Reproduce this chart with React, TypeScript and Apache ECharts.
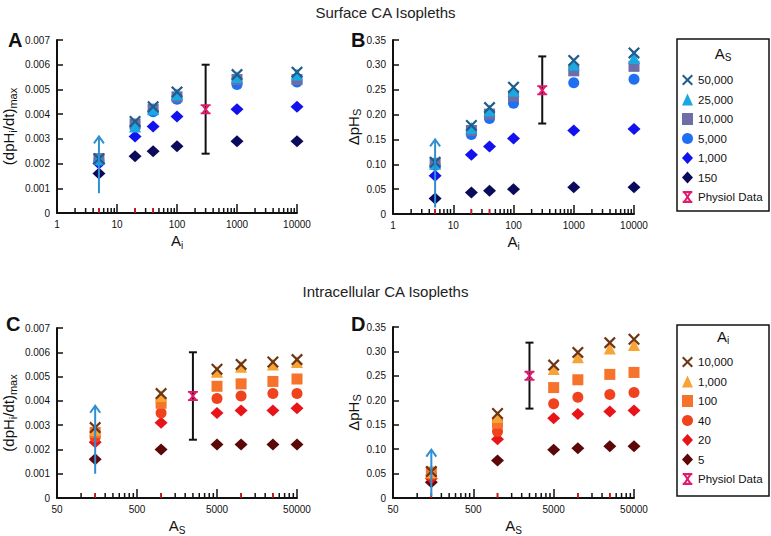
import React, { useEffect, useRef } from 'react';
import * as echarts from 'echarts';

const FONT = "'Liberation Sans', Arial, Helvetica, sans-serif";

// ---- x categories ----
const aiValues = [5, 20, 40, 100, 1000, 10000];
const asValues = [150, 1000, 5000, 10000, 25000, 50000];

// ---- axis ticks ----
const majorTicksAB = [1, 10, 100, 1000, 10000];
const majorTicksCD = [50, 500, 5000, 50000];
const redTicksAB = [5, 20, 40];
const redTicksCD = [150, 1000, 10000, 25000];

// ---- Panel A: (dpHi/dt)max vs Ai, series = As ----
const A_150 = [0.0016, 0.0023, 0.0025, 0.0027, 0.0029, 0.0029];
const A_1000 = [0.0020, 0.0031, 0.0035, 0.0039, 0.0042, 0.0043];
const A_5000 = [0.0021, 0.0035, 0.0041, 0.0046, 0.0052, 0.0053];
const A_10000 = [0.0022, 0.0036, 0.0042, 0.0047, 0.0054, 0.0054];
const A_25000 = [0.0022, 0.0035, 0.0042, 0.0048, 0.0055, 0.0056];
const A_50000 = [0.0022, 0.0037, 0.0043, 0.0049, 0.0056, 0.0057];

// ---- Panel B: ΔpHs vs Ai, series = As ----
const B_150 = [0.031, 0.043, 0.047, 0.050, 0.054, 0.054];
const B_1000 = [0.077, 0.119, 0.136, 0.152, 0.168, 0.171];
const B_5000 = [0.098, 0.160, 0.192, 0.223, 0.264, 0.271];
const B_10000 = [0.102, 0.168, 0.201, 0.237, 0.288, 0.297];
const B_25000 = [0.101, 0.173, 0.208, 0.248, 0.300, 0.314];
const B_50000 = [0.104, 0.178, 0.214, 0.255, 0.309, 0.324];

// ---- Panel C: (dpHi/dt)max vs As, series = Ai ----
const C_5 = [0.0016, 0.0020, 0.0022, 0.0022, 0.0022, 0.0022];
const C_20 = [0.0023, 0.0031, 0.0035, 0.0036, 0.0036, 0.0037];
const C_40 = [0.0025, 0.0035, 0.0041, 0.0042, 0.0043, 0.0043];
const C_100 = [0.0027, 0.0039, 0.0046, 0.0047, 0.0048, 0.0049];
const C_1000 = [0.0028, 0.0042, 0.0052, 0.0054, 0.0055, 0.0056];
const C_10000 = [0.0029, 0.0043, 0.0053, 0.0055, 0.0056, 0.0057];

// ---- Panel D: ΔpHs vs As, series = Ai ----
const D_5 = [0.032, 0.077, 0.099, 0.102, 0.106, 0.106];
const D_20 = [0.040, 0.120, 0.163, 0.172, 0.177, 0.179];
const D_40 = [0.047, 0.136, 0.193, 0.206, 0.212, 0.216];
const D_100 = [0.053, 0.153, 0.226, 0.242, 0.253, 0.257];
const D_1000 = [0.052, 0.166, 0.264, 0.288, 0.306, 0.313];
const D_10000 = [0.054, 0.173, 0.272, 0.298, 0.318, 0.325];

// ---- Physiological data [x, value, low, high] ----
const physA = [300, 0.0042, 0.0024, 0.0060];
const physB = [300, 0.249, 0.182, 0.317];
const physC = [2500, 0.0042, 0.0024, 0.0060];
const physD = [2500, 0.250, 0.183, 0.318];

// ---- arrows [x, from, to] ----
const arrowA = [5, 0.0008, 0.0031];
const arrowB = [5, 0.013, 0.150];
const arrowC = [150, 0.0010, 0.0038];
const arrowD = [150, 0.004, 0.099];

const X_PATH = 'path://M0,1.3 L1.3,0 L5,3.7 L8.7,0 L10,1.3 L6.3,5 L10,8.7 L8.7,10 L5,6.3 L1.3,10 L0,8.7 L3.7,5 Z';
const PHYS_PATH = 'path://M1,0 L9,0 L9,1.8 L1,1.8 Z M1,8.2 L9,8.2 L9,10 L1,10 Z M1.4,1 L3.4,1 L8.6,9 L6.6,9 Z M6.6,1 L8.6,1 L3.4,9 L1.4,9 Z';

const colAB = {
  c50000: '#1f5d8c', c25000: '#19a8e2', c10000: '#6d6ea8', c5000: '#1f6ff2', c1000: '#1212ee', c150: '#0b0b5c',
};
const colCD = {
  c10000: '#6e3514', c1000: '#f7a336', c100: '#f5732a', c40: '#f0421c', c20: '#e8141a', c5: '#5c0808',
};
const PHYS_COLOR = '#e3196d';
const ARROW_COLOR = '#2f8fd2';

function scatter(name: string, g: number, xs: number[], ys: number[], symbol: string, size: any, color: string, z = 2) {
  return {
    type: 'scatter', name, xAxisIndex: g, yAxisIndex: g, silent: true, z,
    data: xs.map((x, i) => [x, ys[i]]),
    symbol, symbolSize: size, itemStyle: { color, opacity: 1 },
  };
}

function errorBar(g: number, p: number[]) {
  return {
    type: 'custom', xAxisIndex: g, yAxisIndex: g, silent: true, z: 3,
    data: [[p[0], p[2], p[3]]],
    encode: { x: 0, y: [1, 2] },
    renderItem: (params: any, api: any) => {
      const x = api.value(0);
      const a = api.coord([x, api.value(1)]);
      const b = api.coord([x, api.value(2)]);
      const st = { stroke: '#111', lineWidth: 2 };
      return {
        type: 'group', children: [
          { type: 'line', shape: { x1: a[0], y1: a[1], x2: b[0], y2: b[1] }, style: st },
          { type: 'line', shape: { x1: a[0] - 4, y1: a[1], x2: a[0] + 4, y2: a[1] }, style: st },
          { type: 'line', shape: { x1: b[0] - 4, y1: b[1], x2: b[0] + 4, y2: b[1] }, style: st },
        ],
      };
    },
  };
}

function arrow(g: number, p: number[]) {
  return {
    type: 'custom', xAxisIndex: g, yAxisIndex: g, silent: true, z: 6,
    data: [[p[0], p[1], p[2]]],
    encode: { x: 0, y: [1, 2] },
    renderItem: (params: any, api: any) => {
      const x = api.value(0);
      const a = api.coord([x, api.value(1)]);
      const b = api.coord([x, api.value(2)]);
      const st = { stroke: ARROW_COLOR, lineWidth: 2, fill: null };
      return {
        type: 'group', children: [
          { type: 'line', shape: { x1: a[0], y1: a[1], x2: b[0], y2: b[1] + 1 }, style: st },
          { type: 'polyline', shape: { points: [[b[0] - 5, b[1] + 7], [b[0], b[1]], [b[0] + 5, b[1] + 7]] }, style: st },
        ],
      };
    },
  };
}

function tickSeries(g: number, values: number[], color: string, len: number, z: number) {
  return {
    type: 'custom', xAxisIndex: g, yAxisIndex: g, silent: true, z,
    data: values.map((v) => [v, 0]),
    renderItem: (params: any, api: any) => {
      const p = api.coord([api.value(0), 0]);
      return { type: 'line', shape: { x1: p[0], y1: p[1], x2: p[0], y2: p[1] - len }, style: { stroke: color, lineWidth: 1.5 } };
    },
  };
}

function minorTicks(min: number, max: number) {
  const out: number[] = [];
  for (let d = min; d < max; d *= 10) {
    for (let m = 2; m <= 9; m++) out.push(d * m);
  }
  return out;
}

const richName = {
  t: { fontSize: 15, lineHeight: 19, fontFamily: FONT, color: '#111' },
  s: { fontSize: 11, lineHeight: 11, verticalAlign: 'bottom', fontFamily: FONT, color: '#111' },
};
const richX = {
  t: { fontSize: 15, lineHeight: 19, fontFamily: FONT, color: '#111' },
  s: { fontSize: 10, lineHeight: 10, verticalAlign: 'bottom', fontFamily: FONT, color: '#111' },
};

function xAxis(g: number, min: number, max: number, majors: number[], name: string) {
  return {
    type: 'log', logBase: 10, gridIndex: g, min, max,
    axisLine: { show: true, onZero: false, lineStyle: { color: '#111', width: 2 } },
    axisTick: { show: true, inside: true, length: 9, lineStyle: { color: '#111', width: 1.5 }, customValues: majors },
    axisLabel: { customValues: majors, formatter: (v: number) => String(Math.round(v)), fontSize: 10, color: '#111', margin: 6, fontFamily: FONT },
    splitLine: { show: false }, minorTick: { show: false }, minorSplitLine: { show: false },
    name, nameLocation: 'middle', nameGap: 18, nameTextStyle: { rich: richX },
  };
}

function yAxis(g: number, max: number, interval: number, digits: number, name: string, gap: number) {
  return {
    type: 'value', gridIndex: g, min: 0, max, interval,
    axisLine: { show: true, onZero: false, lineStyle: { color: '#111', width: 2 } },
    axisTick: { show: true, inside: true, length: 6, lineStyle: { color: '#111', width: 1.5 } },
    axisLabel: { formatter: (v: number) => (v === 0 ? '0' : v.toFixed(digits)), fontSize: 10, color: '#111', margin: 7, fontFamily: FONT },
    splitLine: { show: false },
    name, nameLocation: 'middle', nameRotate: 90, nameGap: gap, nameTextStyle: { rich: richName },
  };
}

function buildOption() {
  const series: any[] = [];
  const seriesAB = (g: number, d: number[][]) => {
    series.push(scatter('s:150', g, aiValues, d[0], 'diamond', [13, 12], colAB.c150));
    series.push(scatter('s:1,000', g, aiValues, d[1], 'diamond', [13, 12], colAB.c1000));
    series.push(scatter('s:5,000', g, aiValues, d[2], 'circle', 11, colAB.c5000));
    series.push(scatter('s:10,000', g, aiValues, d[3], 'rect', 11, colAB.c10000));
    series.push(scatter('s:25,000', g, aiValues, d[4], 'triangle', 12, colAB.c25000));
    series.push(scatter('s:50,000', g, aiValues, d[5], X_PATH, 12, colAB.c50000));
  };
  const seriesCD = (g: number, d: number[][]) => {
    series.push(scatter('i:5', g, asValues, d[0], 'diamond', [13, 12], colCD.c5));
    series.push(scatter('i:20', g, asValues, d[1], 'diamond', [13, 12], colCD.c20));
    series.push(scatter('i:40', g, asValues, d[2], 'circle', 11, colCD.c40));
    series.push(scatter('i:100', g, asValues, d[3], 'rect', 11, colCD.c100));
    series.push(scatter('i:1,000', g, asValues, d[4], 'triangle', 12, colCD.c1000));
    series.push(scatter('i:10,000', g, asValues, d[5], X_PATH, 12, colCD.c10000));
  };
  seriesAB(0, [A_150, A_1000, A_5000, A_10000, A_25000, A_50000]);
  seriesAB(1, [B_150, B_1000, B_5000, B_10000, B_25000, B_50000]);
  seriesCD(2, [C_5, C_20, C_40, C_100, C_1000, C_10000]);
  seriesCD(3, [D_5, D_20, D_40, D_100, D_1000, D_10000]);

  const phys = [physA, physB, physC, physD];
  phys.forEach((p, g) => {
    series.push(errorBar(g, p));
    series.push(scatter(g < 2 ? 's:Physiol Data' : 'i:Physiol Data', g, [p[0]], [p[1]], PHYS_PATH, 10, PHYS_COLOR, 4));
  });
  [arrowA, arrowB, arrowC, arrowD].forEach((a, g) => series.push(arrow(g, a)));
  [0, 1].forEach((g) => {
    series.push(tickSeries(g, minorTicks(1, 10000), '#111', 5, 3));
    series.push(tickSeries(g, redTicksAB, '#e01010', 5, 3));
  });
  [2, 3].forEach((g) => {
    series.push(tickSeries(g, minorTicks(50, 50000), '#111', 5, 3));
    series.push(tickSeries(g, redTicksCD, '#e01010', 5, 3));
  });

  const yNameA = '{t|(dpH}{s|i}{t|/dt)}{s|max}';
  const yNameB = '{t|ΔpH}{s|S}';

  const legendCommon = {
    orient: 'vertical', itemGap: 7.5, itemWidth: 11, itemHeight: 12, selectedMode: false,
    formatter: (n: string) => n.slice(2),
    textStyle: { fontSize: 11.5, color: '#111', fontFamily: FONT }, z: 10,
  };

  const legendTitleRich = {
    t: { fontSize: 15, lineHeight: 19, fontFamily: FONT, fill: '#111', color: '#111' },
    s: { fontSize: 10, lineHeight: 10, verticalAlign: 'bottom', fontFamily: FONT, fill: '#111', color: '#111' },
  };

  return {
    animation: false,
    backgroundColor: '#fff',
    textStyle: { fontFamily: FONT },
    title: [
      { text: 'Surface CA Isopleths', left: 'center', top: 0, textStyle: { fontSize: 15, fontWeight: 'normal', color: '#222', fontFamily: FONT } },
      { text: 'Intracellular CA Isopleths', left: 'center', top: 279, textStyle: { fontSize: 15, fontWeight: 'normal', color: '#222', fontFamily: FONT } },
      { text: 'A', left: 3, top: 25, textStyle: { fontSize: 20, fontWeight: 'bold', color: '#111', fontFamily: FONT } },
      { text: 'B', left: 346, top: 25, textStyle: { fontSize: 20, fontWeight: 'bold', color: '#111', fontFamily: FONT } },
      { text: 'C', left: 1, top: 309, textStyle: { fontSize: 20, fontWeight: 'bold', color: '#111', fontFamily: FONT } },
      { text: 'D', left: 346, top: 309, textStyle: { fontSize: 20, fontWeight: 'bold', color: '#111', fontFamily: FONT } },
    ],
    grid: [
      { left: 56, top: 40, width: 241, height: 173 },
      { left: 393, top: 40, width: 241, height: 174 },
      { left: 56, top: 328, width: 241, height: 174 },
      { left: 393, top: 327, width: 241, height: 175 },
    ],
    xAxis: [
      xAxis(0, 1, 10000, majorTicksAB, '{t|A}{s|i}'),
      xAxis(1, 1, 10000, majorTicksAB, '{t|A}{s|i}'),
      xAxis(2, 50, 50000, majorTicksCD, '{t|A}{s|S}'),
      xAxis(3, 50, 50000, majorTicksCD, '{t|A}{s|S}'),
    ],
    yAxis: [
      yAxis(0, 0.007, 0.001, 3, yNameA, 39),
      yAxis(1, 0.35, 0.05, 2, yNameB, 28),
      yAxis(2, 0.007, 0.001, 3, yNameA, 39),
      yAxis(3, 0.35, 0.05, 2, yNameB, 28),
    ],
    legend: [
      { ...legendCommon, left: 677, top: 69, data: ['s:50,000', 's:25,000', 's:10,000', 's:5,000', 's:1,000', 's:150', 's:Physiol Data'] },
      { ...legendCommon, left: 677, top: 351, data: ['i:10,000', 'i:1,000', 'i:100', 'i:40', 'i:20', 'i:5', 'i:Physiol Data'] },
    ],
    graphic: [
      { type: 'rect', z: 0, shape: { x: 677, y: 39, width: 92, height: 172 }, style: { fill: '#fff', stroke: '#111', lineWidth: 1.5 } },
      { type: 'text', z: 1, x: 723, y: 53, style: { text: '{t|A}{s|S}', rich: legendTitleRich, align: 'center', verticalAlign: 'middle' } },
      { type: 'rect', z: 0, shape: { x: 677, y: 325, width: 92, height: 171 }, style: { fill: '#fff', stroke: '#111', lineWidth: 1.5 } },
      { type: 'text', z: 1, x: 723, y: 336, style: { text: '{t|A}{s|i}', rich: legendTitleRich, align: 'center', verticalAlign: 'middle' } },
    ],
    series,
  };
}

export default function App() {
  const ref = useRef<HTMLDivElement>(null);
  useEffect(() => {
    if (!ref.current) return;
    const chart = echarts.init(ref.current, null, { renderer: 'svg' });
    chart.setOption(buildOption() as any);
    return () => chart.dispose();
  }, []);
  return <div ref={ref} style={{ position: 'fixed', left: 0, top: 0, width: 771, height: 536, background: '#fff' }} />;
}
